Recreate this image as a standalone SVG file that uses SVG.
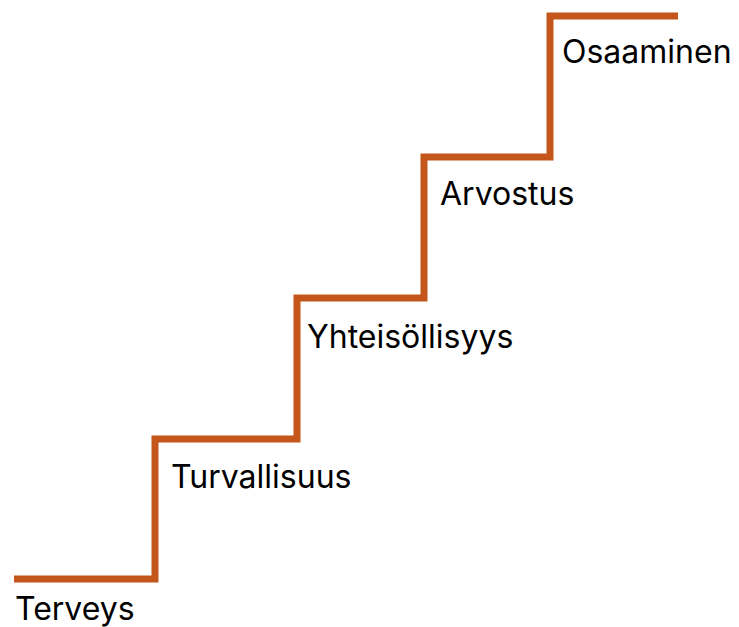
<svg xmlns="http://www.w3.org/2000/svg" width="739" height="627" viewBox="0 0 739 627">
  <style>
    .stair { fill: none; stroke: #C4561C; stroke-width: 7; stroke-linejoin: miter; stroke-linecap: butt; }
    .label { font-family: Inter, "Liberation Sans", sans-serif; font-size: 32px; fill: #000000; }
  </style>
  <rect width="739" height="627" fill="#ffffff"/>
  <g id="connectors">
    <path class="stair" d="M14,579 H155 V439 H297 V298 H424 V157 H550 V16 H678"/>
  </g>
  <g id="terveys"><text class="label" x="15" y="620">Terveys</text></g>
  <g id="turvallisuus"><text class="label" x="171" y="488">Turvallisuus</text></g>
  <g id="yhteisollisyys"><text class="label" x="307" y="348">Yhteisöllisyys</text></g>
  <g id="arvostus"><text class="label" x="440" y="205">Arvostus</text></g>
  <g id="osaaminen"><text class="label" x="562" y="63">Osaaminen</text></g>
</svg>
